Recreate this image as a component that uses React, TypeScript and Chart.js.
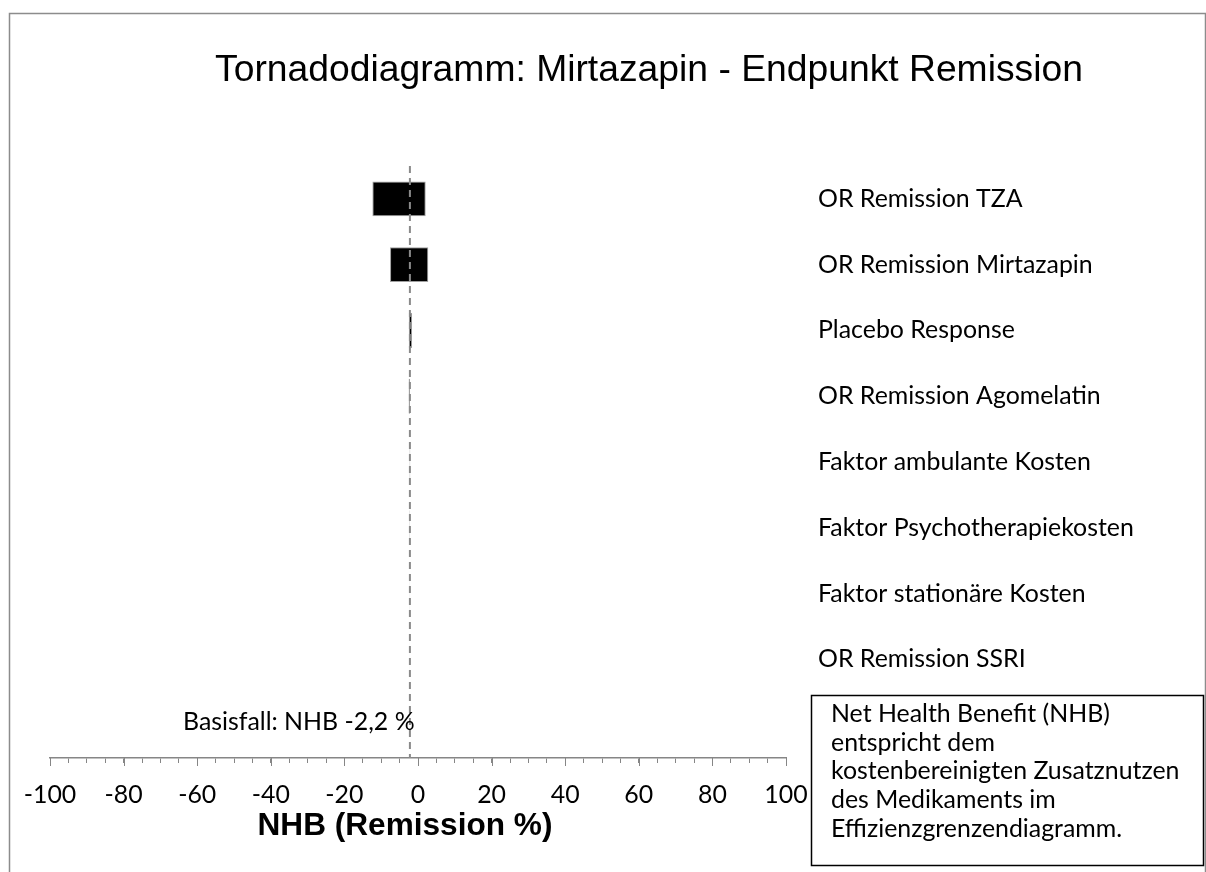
import React, { useEffect, useRef } from 'react';
import { Chart, registerables } from 'chart.js';

Chart.register(...registerables);

const categories = [
  'OR Remission TZA',
  'OR Remission Mirtazapin',
  'Placebo Response',
  'OR Remission Agomelatin',
  'Faktor ambulante Kosten',
  'Faktor Psychotherapiekosten',
  'Faktor stationäre Kosten',
  'OR Remission SSRI',
  '',
];
const lowValues: (number | null)[] = [-12.4, -7.6, -2.5, -2.55, -2.3, -2.3, -2.25, -2.25, null];
const highValues: (number | null)[] = [2.1, 2.8, -1.6, -2.15, -2.1, -2.15, -2.15, -2.2, null];
const baseCase = -2.2;
const xMin = -100;
const xMax = 100;
const majorStep = 20;
const minorStep = 5;
const titleText = 'Tornadodiagramm: Mirtazapin - Endpunkt Remission';
const xAxisTitle = 'NHB (Remission %)';
const baseLabel = 'Basisfall: NHB -2,2 %';
const noteLines = [
  'Net Health Benefit (NHB)',
  'entspricht dem',
  'kostenbereinigten Zusatznutzen',
  'des Medikaments im',
  'Effizienzgrenzendiagramm.',
];

const W = 1206;
const H = 872;

function fitSize(font: string, weight: string, text: string, target: number) {
  const c = document.createElement('canvas').getContext('2d')!;
  c.font = `${weight} 100px ${font}`;
  const w = c.measureText(text).width;
  return (100 * target) / w;
}

export default function App() {
  const ref = useRef<HTMLCanvasElement | null>(null);

  useEffect(() => {
    const cal = 'Lato, "Open Sans", sans-serif';
    const arial = '"Liberation Sans", Arial, sans-serif';
    const calSize = fitSize(cal, 'normal', 'Faktor Psychotherapiekosten', 316);
    const titleSize = fitSize(arial, 'normal', titleText, 868);
    const axisTitleSize = fitSize(arial, 'bold', xAxisTitle, 295);

    const overlay = {
      id: 'overlay',
      afterDatasetsDraw(chart: any) {
        const ctx = chart.ctx;
        const xs = chart.scales.x;
        const area = chart.chartArea;
        const bx = xs.getPixelForValue(baseCase);
        ctx.save();
        ctx.strokeStyle = '#8a8a8a';
        ctx.lineWidth = 2;
        ctx.setLineDash([7, 5]);
        ctx.beginPath();
        ctx.moveTo(bx, area.top);
        ctx.lineTo(bx, area.bottom);
        ctx.stroke();
        ctx.restore();
      },
      afterDraw(chart: any) {
        const ctx = chart.ctx;
        const xs = chart.scales.x;
        const area = chart.chartArea;
        ctx.save();
        // major tick extensions
        ctx.strokeStyle = '#868686';
        ctx.lineWidth = 1;
        for (let v = xMin; v <= xMax; v += majorStep) {
          const px = Math.round(xs.getPixelForValue(v)) + 0.5;
          ctx.beginPath();
          ctx.moveTo(px, area.bottom);
          ctx.lineTo(px, area.bottom + 8);
          ctx.stroke();
        }
        // outer border
        ctx.strokeStyle = '#8c8c8c';
        ctx.lineWidth = 1.5;
        ctx.beginPath();
        ctx.moveTo(9.5, H);
        ctx.lineTo(9.5, 13.5);
        ctx.lineTo(1205.5, 13.5);
        ctx.lineTo(1205.5, H);
        ctx.stroke();
        // title
        ctx.fillStyle = '#000';
        ctx.textAlign = 'center';
        ctx.textBaseline = 'alphabetic';
        ctx.font = `normal ${titleSize}px ${arial}`;
        ctx.fillText(titleText, 649, 81);
        // axis title
        ctx.font = `bold ${axisTitleSize}px ${arial}`;
        ctx.fillText(xAxisTitle, 405, 835);
        // base label
        ctx.textAlign = 'left';
        ctx.font = `normal ${calSize}px ${cal}`;
        ctx.fillText(baseLabel, 183, 730);
        // note box
        ctx.fillStyle = '#fff';
        ctx.fillRect(811.5, 695.5, 392, 170);
        ctx.strokeStyle = '#000';
        ctx.lineWidth = 1.5;
        ctx.strokeRect(811.5, 695.5, 392, 170);
        ctx.fillStyle = '#000';
        noteLines.forEach((line, i) => {
          ctx.fillText(line, 831, 722 + i * 28.7);
        });
        ctx.restore();
      },
    };

    const chart = new Chart(ref.current!, {
      type: 'bar',
      data: {
        labels: categories,
        datasets: [
          {
            data: categories.map((_, i) =>
              lowValues[i] == null ? null : [lowValues[i], highValues[i]]
            ) as any,
            backgroundColor: '#000000',
            borderColor: '#a0a0a0',
            borderWidth: 1,
            borderSkipped: false,
            barPercentage: 0.53,
            categoryPercentage: 1,
          },
        ],
      },
      options: {
        indexAxis: 'y',
        responsive: false,
        animation: false,
        layout: { padding: { left: 50, right: 0, top: 166, bottom: 0 } },
        plugins: {
          legend: { display: false },
          tooltip: { enabled: false },
          title: { display: false },
        },
        scales: {
          x: {
            type: 'linear',
            position: 'bottom',
            min: xMin,
            max: xMax,
            ticks: {
              stepSize: minorStep,
              autoSkip: false,
              maxRotation: 0,
              minRotation: 0,
              color: '#000',
              padding: 17,
              font: { family: cal, size: calSize },
              callback: (v: any) => (Number(v) % majorStep === 0 ? String(v) : ''),
            },
            grid: {
              display: true,
              drawOnChartArea: false,
              drawTicks: true,
              tickLength: 5,
              color: '#868686',
              tickColor: '#868686',
              lineWidth: 1,
            },
            border: { display: true, color: '#868686', width: 1.5 },
            afterFit: (s: any) => {
              s.height = H - 758;
            },
          },
          y: {
            position: 'right',
            ticks: {
              color: '#000',
              padding: 32,
              autoSkip: false,
              crossAlign: 'near',
              font: { family: cal, size: calSize },
            },
            grid: { display: false, drawTicks: false },
            border: { display: false },
            afterFit: (s: any) => {
              s.width = W - 786;
            },
          },
        },
      } as any,
      plugins: [overlay],
    });
    return () => chart.destroy();
  }, []);

  return (
    <div style={{ position: 'absolute', left: 0, top: 0, width: W, height: H }}>
      <canvas ref={ref} width={W} height={H} style={{ display: 'block', width: W, height: H }} />
    </div>
  );
}
